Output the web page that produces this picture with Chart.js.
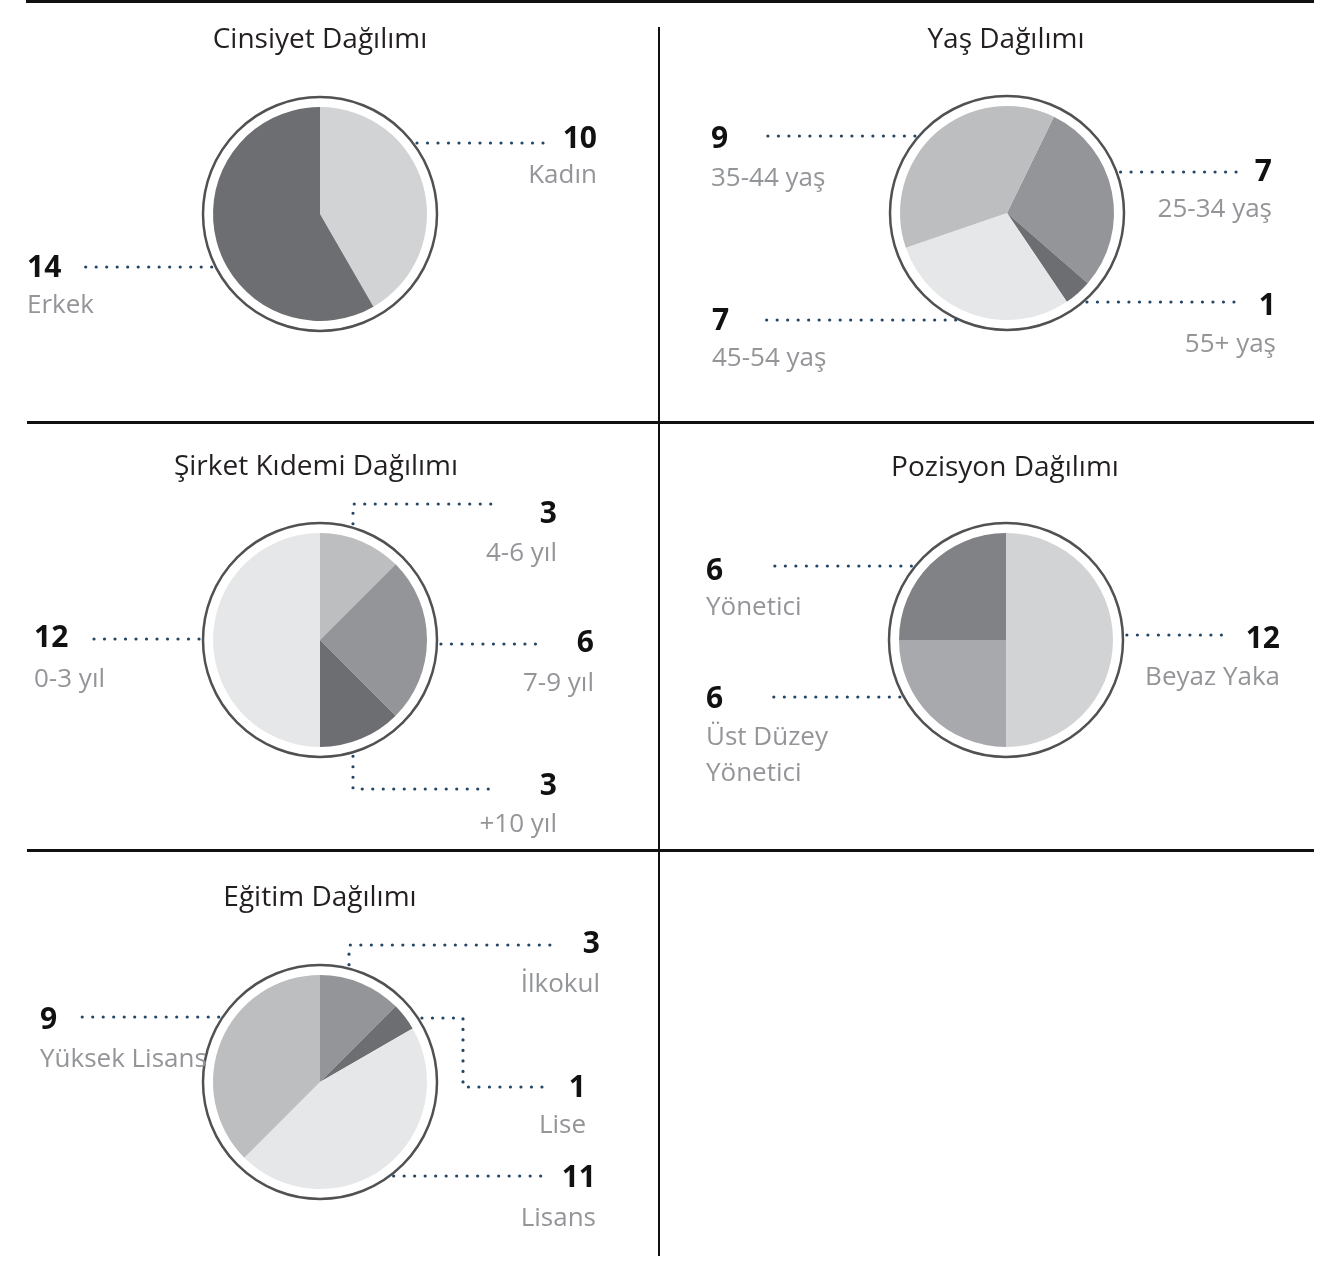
<!DOCTYPE html>
<html lang="tr">
<head>
<meta charset="utf-8">
<title>Dağılımlar</title>
<script src="https://cdn.jsdelivr.net/npm/chart.js@4/dist/chart.umd.min.js"></script>
<style>
    body { margin: 0; background: #fff; font-family: "Open Sans", "Noto Sans", sans-serif; }
    #page { position: relative; width: 1334px; height: 1285px; overflow: hidden; }
    canvas { position: absolute; left: 0; top: 0; }
    .rule { position: absolute; background: #111; }
    .title { position: absolute; font-size: 28px; line-height: 28px; color: #231f20; white-space: nowrap; transform: translateX(-50%); }
    .num { position: absolute; font-size: 30px; line-height: 30px; font-weight: 700; color: #111; white-space: nowrap; }
    .name { position: absolute; font-size: 26px; line-height: 36px; color: #939598; white-space: nowrap; }
</style>
</head>
<body>
<div id="page">
    <div class="rule" style="left:26px; top:0; width:1288px; height:3px;"></div>
    <div class="rule" style="left:27px; top:421px; width:1287px; height:2.5px;"></div>
    <div class="rule" style="left:27px; top:849px; width:1287px; height:2.5px;"></div>
    <div class="rule" style="left:657.5px; top:27px; width:2.5px; height:1229px;"></div>
</div>

<script>
// --- data ---
const genderLabels = ["Kadın", "Erkek"];
const genderValues = [10, 14];

const ageLabels = ["25-34 yaş", "55+ yaş", "45-54 yaş", "35-44 yaş"];
const ageValues = [7, 1, 7, 9];

const tenureLabels = ["4-6 yıl", "7-9 yıl", "+10 yıl", "0-3 yıl"];
const tenureValues = [3, 6, 3, 12];

const positionLabels = ["Beyaz Yaka", "Üst Düzey Yönetici", "Yönetici"];
const positionValues = [12, 6, 6];

const educationLabels = ["İlkokul", "Lise", "Lisans", "Yüksek Lisans"];
const educationValues = [3, 1, 11, 9];

const titles = ["Cinsiyet Dağılımı", "Yaş Dağılımı", "Şirket Kıdemi Dağılımı", "Pozisyon Dağılımı", "Eğitim Dağılımı"];

const W = 1334, H = 1285;

// layout: pie centre, rotation, colours, leader lines and label spots
const charts = [
    {
        title: titles[0], tx: 320, ty: 38,
        labels: genderLabels, values: genderValues,
        cx: 320, cy: 214, rotation: 0,
        colors: ["#d1d3d4", "#6d6e71"],
        leaders: [
            { y: 143, pts: [[551, 143]] },
            { y: 267, pts: [[80, 267]] }
        ],
        spots: [
            { x: 597, ny: 138, my: 173, align: "right" },
            { x: 27, ny: 267, my: 303, align: "left" }
        ]
    },
    {
        title: titles[1], tx: 1006, ty: 38,
        labels: ageLabels, values: ageValues,
        cx: 1007, cy: 213, rotation: 26,
        colors: ["#939598", "#6d6e71", "#e6e7e8", "#bcbec0"],
        leaders: [
            { y: 172, pts: [[1238, 172]] },
            { y: 302, pts: [[1242, 302]] },
            { y: 320, pts: [[763, 320]] },
            { y: 136, pts: [[763, 136]] }
        ],
        spots: [
            { x: 1272, ny: 171, my: 207, align: "right" },
            { x: 1276, ny: 305, my: 342, align: "right" },
            { x: 712, ny: 320, my: 356, align: "left" },
            { x: 711, ny: 138, my: 176, align: "left" }
        ]
    },
    {
        title: titles[2], tx: 316, ty: 465,
        labels: tenureLabels, values: tenureValues,
        cx: 320, cy: 640, rotation: 0,
        colors: ["#bcbec0", "#939598", "#6d6e71", "#e6e7e8"],
        leaders: [
            { x: 353, pts: [[353, 504], [497, 504]] },
            { y: 644, pts: [[541, 644]] },
            { x: 353, pts: [[353, 789], [497, 789]] },
            { y: 639, pts: [[86, 639]] }
        ],
        spots: [
            { x: 557, ny: 513, my: 551, align: "right" },
            { x: 594, ny: 642, my: 681, align: "right" },
            { x: 557, ny: 785, my: 822, align: "right" },
            { x: 34, ny: 637, my: 677, align: "left" }
        ]
    },
    {
        title: titles[3], tx: 1005, ty: 466,
        labels: positionLabels, values: positionValues,
        cx: 1006, cy: 640, rotation: 0,
        colors: ["#d1d3d4", "#a7a9ac", "#808285"],
        leaders: [
            { y: 635, pts: [[1227, 635]] },
            { y: 697, pts: [[767, 697]] },
            { y: 566, pts: [[767, 566]] }
        ],
        spots: [
            { x: 1280, ny: 638, my: 675, align: "right" },
            { x: 706, ny: 698, my: 735, align: "left", wrap: 150 },
            { x: 706, ny: 570, my: 605, align: "left" }
        ]
    },
    {
        title: titles[4], tx: 320, ty: 896,
        labels: educationLabels, values: educationValues,
        cx: 320, cy: 1082, rotation: 0,
        colors: ["#939598", "#6d6e71", "#e6e7e8", "#bcbec0"],
        leaders: [
            { x: 349, pts: [[349, 945], [558, 945]] },
            { y: 1018, pts: [[463, 1018], [463, 1087], [552, 1087]] },
            { y: 1176, pts: [[543, 1176]] },
            { y: 1017, pts: [[78, 1017]] }
        ],
        spots: [
            { x: 600, ny: 943, my: 982, align: "right" },
            { x: 586, ny: 1087, my: 1123, align: "right" },
            { x: 596, ny: 1177, my: 1216, align: "right" },
            { x: 40, ny: 1019, my: 1057, align: "left" }
        ]
    }
];

// ring around the pie + dotted leader lines, both from the arc geometry
const ringPlugin = {
    id: "ring",
    afterDatasetsDraw(chart, args, opts) {
        let arc = chart.getDatasetMeta(0).data[0];
        let ctx = chart.ctx;
        let r = arc.outerRadius + 10;

        ctx.save();
        ctx.beginPath();
        ctx.arc(arc.x, arc.y, r, 0, Math.PI * 2);
        ctx.strokeStyle = "#505153";
        ctx.lineWidth = 2.5;
        ctx.stroke();

        ctx.setLineDash([0, 10.5]);
        ctx.lineCap = "round";
        ctx.lineWidth = 3.2;
        ctx.strokeStyle = "#234566";
        opts.leaders.forEach(l => {
            let start;
            if (l.y !== undefined) {
                let dy = l.y - arc.y;
                let dx = Math.sqrt(Math.max(r * r - dy * dy, 0));
                let sign = l.pts[0][0] > arc.x ? 1 : -1;
                start = [arc.x + sign * (dx + 4), l.y];
            } else {
                let dx = l.x - arc.x;
                let dy = Math.sqrt(Math.max(r * r - dx * dx, 0));
                let sign = l.pts[0][1] > arc.y ? 1 : -1;
                start = [l.x, arc.y + sign * (dy + 4)];
            }
            ctx.beginPath();
            ctx.moveTo(start[0], start[1]);
            l.pts.forEach(p => ctx.lineTo(p[0], p[1]));
            ctx.stroke();
        });
        ctx.restore();
    }
};

function addText(cls, text, x, cy, fs, align, wrap) {
    let el = document.createElement("div");
    el.className = cls;
    el.textContent = text;
    el.style.top = (cy - fs * 0.53) + "px";
    if (align === "right") {
        el.style.right = (W - x) + "px";
        el.style.textAlign = "right";
    } else {
        el.style.left = x + "px";
    }
    if (wrap) {
        el.style.whiteSpace = "normal";
        el.style.width = wrap + "px";
    }
    document.getElementById("page").appendChild(el);
    return el;
}

function drawPie(cfg, i) {
    let canvas = document.createElement("canvas");
    canvas.width = W;
    canvas.height = H;
    document.getElementById("page").appendChild(canvas);

    new Chart(canvas.getContext("2d"), {
        type: "pie",
        data: {
            labels: cfg.labels,
            datasets: [{
                data: cfg.values,
                backgroundColor: cfg.colors,
                borderWidth: 0
            }]
        },
        options: {
            responsive: false,
            animation: false,
            radius: 107,
            rotation: cfg.rotation,
            layout: {
                padding: {
                    left: cfg.cx - 150,
                    right: W - cfg.cx - 150,
                    top: cfg.cy - 150,
                    bottom: H - cfg.cy - 150
                }
            },
            plugins: {
                legend: { display: false },
                tooltip: { enabled: false },
                ring: { leaders: cfg.leaders }
            }
        },
        plugins: [ringPlugin]
    });

    let t = addText("title", cfg.title, 0, cfg.ty, 28, "left");
    t.style.left = cfg.tx + "px";

    cfg.spots.forEach((s, k) => {
        addText("num", String(cfg.values[k]), s.x, s.ny, 30, s.align);
        let nm = addText("name", cfg.labels[k], s.x, s.my, 26, s.align, s.wrap);
        nm.style.top = (s.my - 18) + "px";
    });
}

charts.forEach(drawPie);
</script>
</body>
</html>
